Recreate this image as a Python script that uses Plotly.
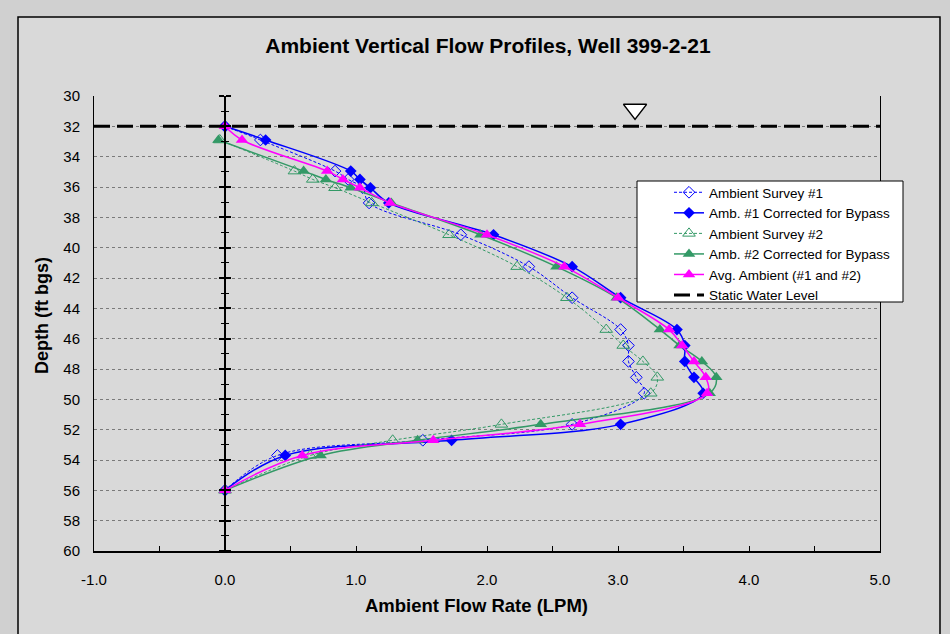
import plotly.graph_objects as go

# ---------------- data ----------------
depth = [32.0, 32.9, 34.95, 35.5, 36.05, 37.05, 39.15, 41.25, 43.3, 45.4,
         46.45, 47.5, 48.55, 49.6, 51.65, 52.7, 53.7, 56.0]
depth_s2 = depth[1:]

survey1 = [0.0, 0.27, 0.84, 0.94, 1.05, 1.10, 1.80, 2.32, 2.65, 3.02,
           3.08, 3.08, 3.14, 3.20, 2.65, 1.51, 0.40, 0.0]
survey1_corr = [0.0, 0.31, 0.96, 1.03, 1.11, 1.25, 2.05, 2.65, 3.02, 3.45,
                3.51, 3.51, 3.58, 3.65, 3.02, 1.73, 0.46, 0.0]
survey2 = [-0.04, 0.53, 0.67, 0.84, 1.12, 1.71, 2.23, 2.61, 2.91,
           3.04, 3.19, 3.30, 3.25, 2.11, 1.28, 0.65, 0.0]
survey2_corr = [-0.05, 0.60, 0.77, 0.96, 1.27, 1.95, 2.53, 2.99, 3.32,
                3.47, 3.64, 3.75, 3.70, 2.41, 1.47, 0.73, 0.0]
avg_ambient = [0.0, 0.13, 0.78, 0.90, 1.03, 1.26, 2.00, 2.59, 3.00, 3.39,
               3.49, 3.58, 3.67, 3.68, 2.71, 1.59, 0.59, 0.0]

static_water_level = 32.0
wl_symbol = (3.13, 30.88)

x_range = [-1.0, 5.0]
y_range = [60, 30]
x_tick_vals = [-1.0, 0.0, 1.0, 2.0, 3.0, 4.0, 5.0]
x_tick_text = ["-1.0", "0.0", "1.0", "2.0", "3.0", "4.0", "5.0"]

names = ["Ambient Survey #1", "Amb. #1 Corrected for Bypass", "Ambient Survey #2",
         "Amb. #2 Corrected for Bypass", "Avg. Ambient (#1 and #2)", "Static Water Level"]

BLUE = "#0000FF"
GREEN = "#339966"
PINK = "#FF00FF"
FONT = "Liberation Sans, Arial, sans-serif"

fig = go.Figure()

fig.add_trace(go.Scatter(
    x=survey1, y=depth, name=names[0], mode="lines+markers",
    line=dict(color=BLUE, width=1, dash="3px,2px", shape="spline"),
    marker=dict(symbol="diamond-open", size=9, color=BLUE, line=dict(width=1, color=BLUE))))
fig.add_trace(go.Scatter(
    x=survey1_corr, y=depth, name=names[1], mode="lines+markers",
    line=dict(color=BLUE, width=1.5, shape="spline"),
    marker=dict(symbol="diamond", size=9, color=BLUE)))
fig.add_trace(go.Scatter(
    x=survey2, y=depth_s2, name=names[2], mode="lines+markers",
    line=dict(color=GREEN, width=1, dash="3px,2px", shape="spline"),
    marker=dict(symbol="triangle-up-open", size=11, color=GREEN, line=dict(width=1, color=GREEN))))
fig.add_trace(go.Scatter(
    x=survey2_corr, y=depth_s2, name=names[3], mode="lines+markers",
    line=dict(color=GREEN, width=1.5, shape="spline"),
    marker=dict(symbol="triangle-up", size=11, color=GREEN)))
fig.add_trace(go.Scatter(
    x=avg_ambient, y=depth, name=names[4], mode="lines+markers",
    line=dict(color=PINK, width=1.5, shape="spline"),
    marker=dict(symbol="triangle-up", size=11, color=PINK)))
fig.add_trace(go.Scatter(
    x=x_range, y=[static_water_level, static_water_level], name=names[5], mode="lines",
    line=dict(color="black", width=3, dash="16px,7px")))
fig.add_trace(go.Scatter(
    x=[wl_symbol[0]], y=[wl_symbol[1]], mode="markers", showlegend=False, hoverinfo="skip",
    cliponaxis=False,
    marker=dict(symbol="triangle-down", size=20, color="white", line=dict(color="black", width=1.5))))
# helper traces so the x = 0 axis (with crossing ticks) is drawn
fig.add_trace(go.Scatter(x=[None], y=[None], yaxis="y2", showlegend=False, hoverinfo="skip"))
fig.add_trace(go.Scatter(x=[None], y=[None], yaxis="y3", showlegend=False, hoverinfo="skip"))

BG = "#d9d9d9"
# plot area in pixels: x 94..880, y 96..551
L, R, T, B = 94, 880, 96, 551
W, H = R - L, B - T
px = lambda x: (x - L) / W
py = lambda y: (B - y) / H

zero_pos = (0 - x_range[0]) / (x_range[1] - x_range[0])

zaxis = dict(overlaying="y", anchor="free", position=zero_pos, range=y_range,
             showgrid=False, zeroline=False, showticklabels=False,
             tick0=30, dtick=2, ticks="outside", ticklen=5, tickwidth=1.5, tickcolor="black",
             minor=dict(ticks="outside", ticklen=3, dtick=1, tickcolor="black", tickwidth=1))

fig.update_layout(
    width=950, height=634, autosize=False,
    margin=dict(l=L, r=950 - R, t=T, b=634 - B, pad=0),
    paper_bgcolor="#d0d0d0", plot_bgcolor=BG,
    font=dict(family=FONT, color="black"),
    title=dict(text="Ambient Vertical Flow Profiles, Well 399-2-21",
               x=488 / 950, xref="container", xanchor="center",
               y=1 - 46 / 634, yref="container", yanchor="middle",
               font=dict(size=21, family=FONT, color="black", weight="bold")),
    xaxis=dict(range=x_range, showgrid=False, zeroline=False,
               showline=True, linecolor="black", linewidth=2,
               tickmode="array", tickvals=x_tick_vals, ticktext=x_tick_text,
               ticks="inside", ticklen=5,
               tickcolor="black", tickfont=dict(size=15, family=FONT, color="black"),
               ticklabelstandoff=14,
               minor=dict(ticks="inside", ticklen=5, dtick=0.5, tickcolor="black")),
    yaxis=dict(range=y_range, tick0=30, dtick=2, showgrid=True, gridcolor="#7a7a7a",
               griddash="dot", gridwidth=1, zeroline=False,
               showline=True, linecolor="black", linewidth=1, mirror=True,
               ticks="", tickfont=dict(size=15, family=FONT, color="black"),
               ticklabelstandoff=10),
    yaxis2=dict(zaxis, side="left", showline=True, linecolor="black", linewidth=1.5),
    yaxis3=dict(zaxis, side="right", showline=False),
    showlegend=True,
    legend=dict(x=px(669), y=py(177), xanchor="left", yanchor="top",
                bgcolor="rgba(0,0,0,0)", borderwidth=0,
                font=dict(size=13.5, family=FONT, color="black"),
                itemwidth=30, tracegroupgap=0),
    shapes=[
        # chart frame
        dict(type="rect", xref="paper", yref="paper", layer="below",
             x0=px(18), x1=px(940), y0=py(645), y1=py(17),
             fillcolor=BG, line=dict(color="black", width=1.5)),
        # legend box
        dict(type="rect", xref="paper", yref="paper", layer="above",
             x0=px(637), x1=px(903), y0=py(302), y1=py(181),
             fillcolor="white", line=dict(color="black", width=1)),
    ],
    annotations=[
        dict(text="Ambient Flow Rate (LPM)", xref="paper", yref="paper",
             x=px(476), y=py(605), xanchor="center", yanchor="middle", showarrow=False,
             font=dict(size=18.5, family=FONT, color="black", weight="bold")),
        dict(text="Depth (ft bgs)", xref="paper", yref="paper", textangle=-90,
             x=px(42), y=py(316), xanchor="center", yanchor="middle", showarrow=False,
             font=dict(size=18, family=FONT, color="black", weight="bold")),
    ],
)

fig.write_html("out.html")
